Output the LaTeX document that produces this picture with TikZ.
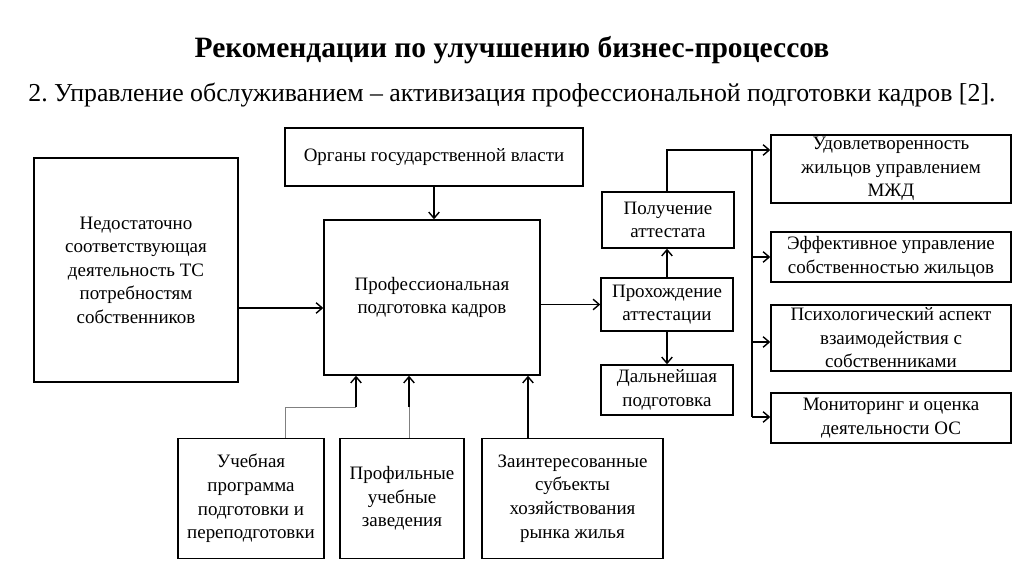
\documentclass[tikz,border=0pt]{standalone}
\usepackage{fontspec}
\setmainfont{Liberation Serif}
\usetikzlibrary{arrows.meta}

\begin{document}
\begin{tikzpicture}[x=0.02cm, y=-0.02cm,
  >={Straight Barb[length=3.5pt,width=6pt]},
  box/.style 2 args={draw, line width=0.8pt, inner sep=0pt, align=center,
    minimum width=#1*0.02cm, minimum height=#2*0.02cm,
    font=\fontsize{10.8}{13.4}\selectfont},
  link/.style={line width=0.8pt, ->},
  thin link/.style={line width=0.5pt, gray}]
\useasboundingbox (0,0) rectangle (1024,574);

% Title
\node (title) at (512,50) {\fontsize{16.8}{20}\selectfont\bfseries Рекомендации по улучшению бизнес-процессов};
\node (subtitle) at (512,95) {\fontsize{14.7}{17}\selectfont 2.\ Управление обслуживанием – активизация профессиональной подготовки кадров [2].};

% Left and centre
\node[box={204}{224}] (need) at (136,270) {Недостаточно\\соответствующая\\деятельность ТС\\потребностям\\собственников};
\node[box={298}{58}] (gov) at (434,157) {Органы государственной власти};
\node[box={216}{155}] (prof) at (432,297.5) {Профессиональная\\подготовка кадров};

% Attestation
\node[box={132}{56}] (cert) at (668,220) {Получение\\аттестата};
\node[box={132}{53}] (exam) at (667,304.5) {Прохождение\\аттестации};
\node[box={132}{50}] (further) at (667,390) {Дальнейшая\\подготовка};

% Results
\node[box={240}{68}] (res1) at (891,169) {Удовлетворенность\\жильцов управлением\\МЖД};
\node[box={240}{50}] (res2) at (891,257) {Эффективное управление\\собственностью жильцов};
\node[box={240}{66}] (res3) at (891,338) {Психологический аспект\\взаимодействия с\\собственниками};
\node[box={240}{50}] (res4) at (891,418) {Мониторинг и оценка\\деятельности ОС};

% Sources
\node[box={146}{120}] (plan) at (251,498.5) {Учебная\\программа\\подготовки и\\переподготовки};
\node[box={124}{120}] (school) at (402,498.5) {Профильные\\учебные\\заведения};
\node[box={181}{120}] (market) at (572.5,498.5) {Заинтересованные\\субъекты\\хозяйствования\\рынка жилья};

% Connectors
\draw[link] (need.east |- 0,308) -- (prof.west |- 0,308);
\draw[link] (gov.south) -- (gov.south |- prof.north);
\draw[link] (prof.east |- exam.west) -- (exam.west);
\draw[link] (exam.north -| 667,0) -- (cert.south -| 667,0);
\draw[link] (exam.south) -- (further.north);

% Bus to results
\coordinate (bustop) at (752,150);
\coordinate (busbot) at (752,417);
\draw[line width=0.8pt] (cert.north -| 667,0) |- (bustop);
\draw[line width=0.8pt] (bustop) -- (busbot);
\draw[link] (bustop) -- (bustop -| res1.west);
\draw[link] (bustop |- res2.west) -- (res2.west);
\draw[link] (bustop |- 0,342) -- (res3.west |- 0,342);
\draw[link] (busbot) -- (busbot -| res4.west);

% Sources to centre
\coordinate (planup) at (356,407);
\coordinate (schoolup) at (409,407);
\draw[thin link] (plan.north -| 285,0) |- (planup);
\draw[link] (planup) -- (planup |- prof.south);
\draw[thin link] (school.north -| schoolup) -- (schoolup);
\draw[link] (schoolup) -- (schoolup |- prof.south);
\draw[link] (market.north -| 528,0) -- (prof.south -| 528,0);
\end{tikzpicture}
\end{document}
